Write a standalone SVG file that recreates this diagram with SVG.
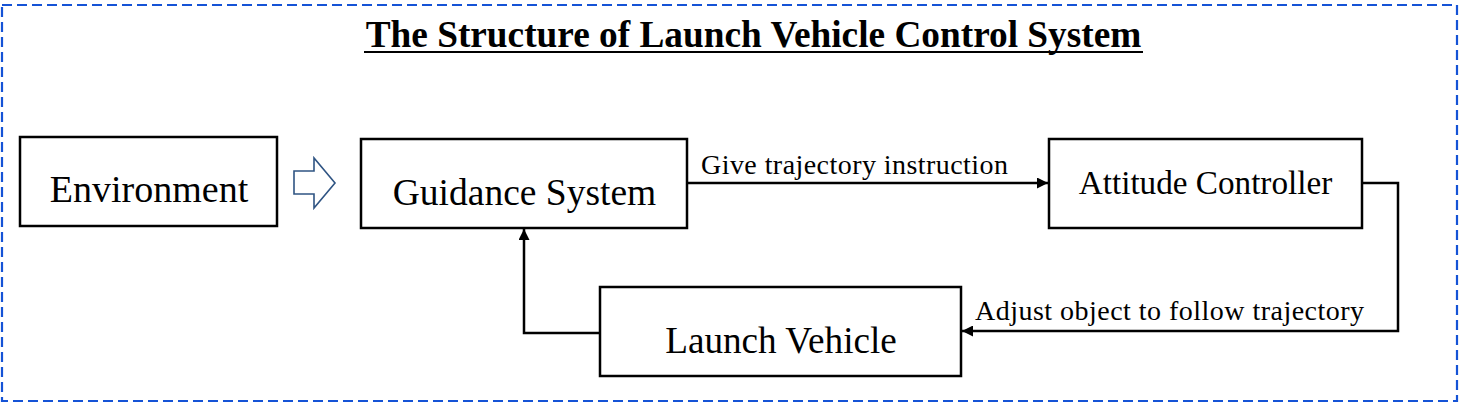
<svg xmlns="http://www.w3.org/2000/svg" width="1459" height="403" viewBox="0 0 1459 403">
<style>
.box{fill:#fff;stroke:#000;stroke-width:2.5}
.t{font-family:"Liberation Serif","Times New Roman",serif;fill:#000;text-anchor:middle}
.lbl{font-family:"Liberation Serif","Times New Roman",serif;fill:#000;font-size:28px}
.wire{fill:none;stroke:#000;stroke-width:2.5}
</style>
<defs>
<marker id="ah" viewBox="0 0 10 10" refX="10" refY="5" markerWidth="5" markerHeight="4.4" markerUnits="strokeWidth" orient="auto">
<path d="M0,0 L10,5 L0,10 Z" fill="#000"/>
</marker>
</defs>
<rect x="2" y="5" width="1455" height="396" fill="#fff" stroke="#1553d6" stroke-width="2.2" stroke-dasharray="10,5"/>
<g id="title">
<text class="t" x="753.5" y="47" font-size="37.3" font-weight="bold">The Structure of Launch Vehicle Control System</text>
<line x1="364" y1="52" x2="1143" y2="52" stroke="#000" stroke-width="2"/>
</g>
<g id="environment">
<rect class="box" x="20" y="137" width="257" height="89"/>
<text class="t" x="149" y="202" font-size="38">Environment</text>
</g>
<g id="block-arrow">
<polygon points="294,171 314,171 314,158 335,183 314,208 314,194 294,194" fill="#fff" stroke="#2f5483" stroke-width="1.6"/>
</g>
<g id="guidance">
<rect class="box" x="361" y="139" width="326" height="89"/>
<text class="t" x="524.5" y="205" font-size="37.5">Guidance System</text>
</g>
<g id="attitude">
<rect class="box" x="1049" y="139" width="313" height="89"/>
<text class="t" x="1205.5" y="194" font-size="33.2">Attitude Controller</text>
</g>
<g id="launch">
<rect class="box" x="600" y="287" width="361" height="89"/>
<text class="t" x="781" y="353" font-size="37.2">Launch Vehicle</text>
</g>
<g id="connectors">
<path class="wire" d="M687,183 H1048" marker-end="url(#ah)"/>
<text class="lbl" x="701" y="174" textLength="307">Give trajectory instruction</text>
<path class="wire" d="M1362,183 H1398 V331 H962" marker-end="url(#ah)"/>
<text class="lbl" x="975" y="320" textLength="389">Adjust object to follow trajectory</text>
<path class="wire" d="M600,333 H524 V229" marker-end="url(#ah)"/>
</g>
</svg>
